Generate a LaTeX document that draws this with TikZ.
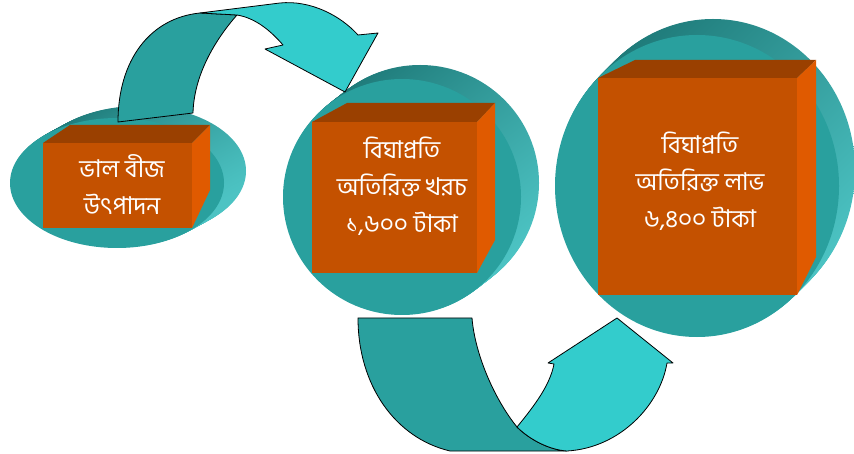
\documentclass[tikz,border=0pt]{standalone}
\usepackage{fontspec}
\newfontfamily\bnfont[Script=Bengali]{Hind Siliguri}
\definecolor{tealfront}{HTML}{29A09E}
\definecolor{tealdark}{HTML}{1F7B7A}
\definecolor{teallight}{HTML}{4CC3C3}
\definecolor{tealarrow}{HTML}{33CCCC}
\definecolor{boxfront}{HTML}{C45100}
\definecolor{boxtop}{HTML}{9A4000}
\definecolor{boxside}{HTML}{E05A00}
\begin{document}
\begin{tikzpicture}[x=1pt,y=-1pt,
	boxtext/.style={text=white, align=center, font=\bnfont\fontsize{24.5}{37}\selectfont},
	arrowpart/.style={draw=black, line width=0.8pt, line join=round}]
		\useasboundingbox (0,0) rectangle (854,454);
		% Define ellipses
		\coordinate (E1) at (117,183);
		\coordinate (E2) at (402,197);
		\coordinate (E3) at (697,186);
		\foreach \i in {20,19,...,1} {
			\path[top color=tealdark, bottom color=teallight, shading angle=45]
				([shift={(\i*1.1,-\i*0.6)}]E1) ellipse [x radius=107, y radius=65];
			\path[top color=tealdark, bottom color=teallight, shading angle=45]
				([shift={(\i*0.9,-\i*0.7)}]E2) ellipse [x radius=119, y radius=118];
			\path[top color=tealdark, bottom color=teallight, shading angle=45]
				([shift={(\i*0.8,-\i*0.8)}]E3) ellipse [x radius=142, y radius=151];
		}
		\fill[tealfront] (E1) ellipse [x radius=107, y radius=65];
		\fill[tealfront] (E2) ellipse [x radius=119, y radius=118];
		\fill[tealfront] (E3) ellipse [x radius=142, y radius=151];
		
		% Arrow 1 -> 2
		\path[arrowpart, fill=tealfront] (118,122) .. controls (118,60) and (150,18) .. (200,13)
			-- (237,15) .. controls (215,40) and (194,75) .. (193,113) -- cycle;
		\path[arrowpart, fill=tealarrow] (200,13) -- (280,3) .. controls (310,0) and (340,15) .. (358,35)
			-- (378,33) -- (345,92) -- (265,49) -- (283,45)
			.. controls (270,30) and (255,18) .. (237,15) -- cycle;
		
		% Arrow 2 -> 3
		\path[arrowpart, fill=tealfront] (358,318) -- (472,318) .. controls (475,355) and (495,400) .. (517,427)
			.. controls (530,440) and (550,450) .. (567,451) -- (450,451)
			.. controls (395,438) and (358,385) .. (358,318) -- cycle;
		\path[arrowpart, fill=tealarrow] (517,427) .. controls (535,405) and (550,385) .. (554,364)
			-- (548,363) -- (617,318) -- (673,363) -- (667,363)
			.. controls (660,405) and (620,448) .. (567,451)
			.. controls (550,450) and (530,440) .. (517,427) -- cycle;
		
		% Box 1
		\fill[boxtop] (43,143) -- (70,125) -- (210,125) -- (192,143) -- cycle;
		\fill[boxside] (192,143) -- (210,125) -- (210,190) -- (192,228) -- cycle;
		\fill[boxfront] (43,143) rectangle (192,228);
		\node[boxtext] (Seed) at (122,185) {ভাল বীজ\\উৎপাদন};
		
		% Box 2
		\fill[boxtop] (312,122) -- (347,103) -- (495,103) -- (477,122) -- cycle;
		\fill[boxside] (477,122) -- (495,103) -- (495,240) -- (477,273) -- cycle;
		\fill[boxfront] (312,122) rectangle (477,273);
		\node[boxtext] (Cost) at (402,186) {বিঘাপ্রতি\\অতিরিক্ত খরচ\\১,৬০০ টাকা};
		
		% Box 3
		\fill[boxtop] (598,78) -- (635,60) -- (816,60) -- (797,78) -- cycle;
		\fill[boxside] (797,78) -- (816,60) -- (816,257) -- (797,295) -- cycle;
		\fill[boxfront] (598,78) rectangle (797,295);
		\node[boxtext] (Profit) at (700,181) {বিঘাপ্রতি\\অতিরিক্ত লাভ\\৬,৪০০ টাকা};
		
	\end{tikzpicture}
\end{document}
